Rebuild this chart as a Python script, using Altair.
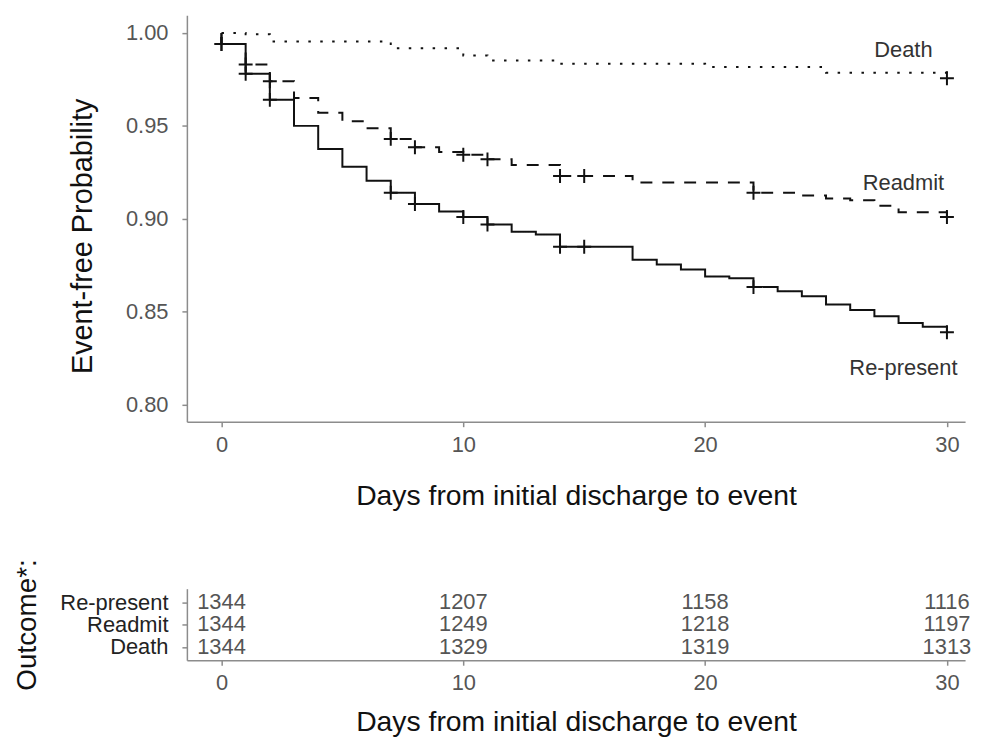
import altair as alt
import pandas as pd

# ---- Kaplan-Meier step curves (day of change, survival after change) ----
rp_days = [0, 0, 1, 2, 3, 4, 5, 6, 7, 8, 9, 10, 11, 12, 13, 14, 17, 18, 19, 20, 21, 22, 23, 24, 25, 26, 27, 28, 29, 30]
rp_prob = [1.000, 0.994, 0.978, 0.964, 0.950, 0.9375, 0.928, 0.9205, 0.914, 0.908, 0.904, 0.901, 0.897, 0.893, 0.8916,
           0.885, 0.878, 0.8755, 0.8727, 0.869, 0.868, 0.8633, 0.861, 0.8584, 0.854, 0.851, 0.8476, 0.844, 0.842, 0.839]

ra_days = [0, 0, 1, 2, 3, 4, 5, 6, 7, 8, 9, 10, 11, 12, 14, 17, 22, 24, 25, 26, 27, 28, 30]
ra_prob = [1.000, 0.994, 0.983, 0.974, 0.965, 0.957, 0.9525, 0.9487, 0.943, 0.9385, 0.936, 0.9345, 0.932, 0.929, 0.923,
           0.9196, 0.914, 0.9125, 0.911, 0.910, 0.907, 0.9036, 0.901]

de_days = [0, 1, 2, 7, 10, 11, 14, 20, 25, 30]
de_prob = [1.000, 0.9993, 0.9954, 0.9917, 0.9879, 0.9852, 0.9834, 0.9817, 0.9786, 0.9756]

# censoring marks (days)
rp_censor = [0, 1, 2, 7, 8, 10, 11, 14, 15, 22, 30]
ra_censor = [0, 1, 2, 7, 8, 10, 11, 14, 15, 22, 30]
de_censor = [30]

outcomes = ["Re-present", "Readmit", "Death"]

# number at risk table
risk_days = [0, 10, 20, 30]
risk_rp = [1344, 1207, 1158, 1116]
risk_ra = [1344, 1249, 1218, 1197]
risk_de = [1344, 1329, 1319, 1313]

# curve end labels
label_text = ["Death", "Readmit", "Re-present"]
label_day = [28.2, 28.2, 28.2]
label_prob = [0.9908, 0.9191, 0.8197]

# ---------------- build tables ----------------
series = {"Re-present": (rp_days, rp_prob, rp_censor),
          "Readmit": (ra_days, ra_prob, ra_censor),
          "Death": (de_days, de_prob, de_censor)}

line_rows, cens_rows = [], []
for name, (d, p, c) in series.items():
    for i, (dd, pp) in enumerate(zip(d, p)):
        line_rows.append({"outcome": name, "day": dd, "prob": pp, "seq": i})
    for cd in c:
        val = [pp for dd, pp in zip(d, p) if dd <= cd][-1]
        cens_rows.append({"outcome": name, "day": cd, "prob": val})
lines_df = pd.DataFrame(line_rows)
cens_df = pd.DataFrame(cens_rows)
labels_df = pd.DataFrame({"label": label_text, "day": label_day, "prob": label_prob})

risk_rows = []
for name, vals in zip(outcomes, [risk_rp, risk_ra, risk_de]):
    for dd, v in zip(risk_days, vals):
        risk_rows.append({"outcome": name, "day": dd, "n": str(v)})
risk_df = pd.DataFrame(risk_rows)

FONT = "Liberation Sans"
X_DOMAIN = [-1.43, 30.75]
W = 783

xscale = alt.Scale(domain=X_DOMAIN, nice=False, zero=False)
yscale = alt.Scale(domain=[0.7909, 1.0095], nice=False, zero=False)

x_main = alt.X("day:Q", scale=xscale,
               axis=alt.Axis(values=[0, 10, 20, 30], title="Days from initial discharge to event",
                             labelPadding=8, titlePadding=26, titleFontSize=28.5))
y_main = alt.Y("prob:Q", scale=yscale,
               axis=alt.Axis(values=[0.80, 0.85, 0.90, 0.95, 1.00], format=".2f",
                             title="Event-free Probability", labelPadding=14, titlePadding=28,
                             titleY=222, titleFontSize=29))

lines = alt.Chart(lines_df).mark_line(interpolate="step-after", color="#111", strokeWidth=2).encode(
    x=x_main, y=y_main,
    detail="outcome:N",
    order="seq:Q",
    strokeDash=alt.StrokeDash("outcome:N", scale=alt.Scale(domain=outcomes,
                                                          range=[[1, 0], [12, 10], [2.5, 9.5]]),
                              legend=None),
    strokeWidth=alt.StrokeWidth("outcome:N", scale=alt.Scale(domain=outcomes, range=[2, 2, 2.6]),
                                legend=None),
)

cens = alt.Chart(cens_df).mark_point(shape="M-1,0H1M0,-1V1", size=196, strokeWidth=2,
                                     color="#111", filled=False, opacity=1).encode(x="day:Q", y="prob:Q")

labels = alt.Chart(labels_df).mark_text(font=FONT, fontSize=22, color="#333",
                                        align="center", baseline="middle").encode(
    x="day:Q", y="prob:Q", text="label:N")

main = alt.layer(lines, cens, labels).properties(width=W, height=409)

table = alt.Chart(risk_df).mark_text(font=FONT, fontSize=22, color="#555",
                                     align="center", baseline="middle").encode(
    x=alt.X("day:Q", scale=xscale,
            axis=alt.Axis(values=[0, 10, 20, 30], title="Days from initial discharge to event",
                          labelPadding=7, titlePadding=15, titleFontSize=28.5)),
    y=alt.Y("outcome:N", scale=alt.Scale(type="point", domain=outcomes, padding=0.6),
            axis=alt.Axis(title="Outcome*:", labelColor="#222", labelPadding=14, titlePadding=19)),
    text="n:N",
).properties(width=W, height=72)

chart = alt.vconcat(main, table, spacing=48).resolve_scale(
    x="independent", y="independent", strokeDash="independent", strokeWidth="independent"
).configure_view(stroke=None).configure_axis(
    grid=False,
    domainColor="#8c8c8c", domainWidth=1.5,
    tickColor="#8c8c8c", tickWidth=1.5, tickSize=5,
    labelFont=FONT, labelFontSize=22, labelColor="#555",
    titleFont=FONT, titleFontSize=28, titleFontWeight="normal", titleColor="#111",
).properties(background="white")

chart.save("out.html", embed_options={"renderer": "svg", "actions": False})
